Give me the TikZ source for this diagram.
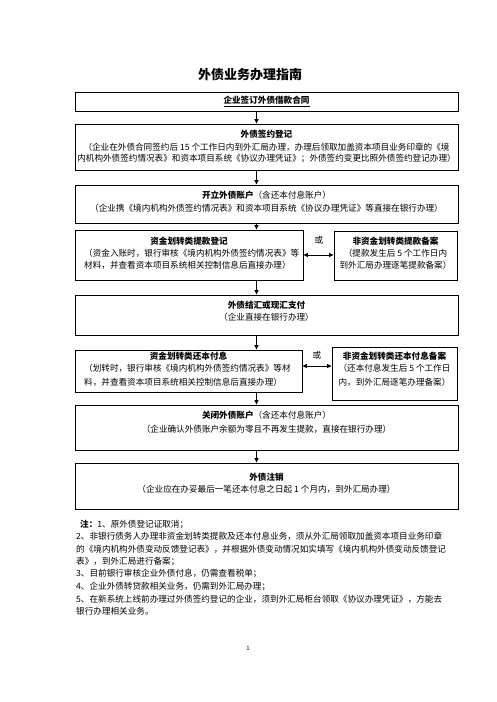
\documentclass[tikz,border=0pt]{standalone}
\usepackage{fontspec}
\setmainfont{Noto Sans CJK SC}
\usetikzlibrary{arrows.meta}
\begin{document}
\begin{tikzpicture}[x=1pt,y=-1pt,
  box/.style={draw,line width=0.9pt,inner sep=0pt},
  txt/.style={inner sep=0pt,font=\fontsize{8.6}{10}\selectfont},
  arr/.style={line width=0.8pt,-{Triangle[length=4.5pt,width=4pt]}},
  darr/.style={line width=0.8pt,{Triangle[length=4.5pt,width=4pt]}-{Triangle[length=4.5pt,width=4pt]}}]
\useasboundingbox[fill=white] (0,0) rectangle (496,702);
% title
\node[inner sep=0pt,font=\fontsize{13}{15}\selectfont\bfseries] (title) at (250,75) {外债业务办理指南};
% boxes
\node[box,minimum width=383pt,minimum height=19pt] (b1) at (266.5,101.5) {};
\node[box,minimum width=383pt,minimum height=46pt] (b2) at (266.5,147) {};
\node[box,minimum width=383pt,minimum height=38pt] (b3) at (266.5,204) {};
\node[box,minimum width=228pt,minimum height=50pt] (b4l) at (189,255) {};
\node[box,minimum width=123pt,minimum height=49pt] (b4r) at (395.5,255.5) {};
\node[box,minimum width=383pt,minimum height=40pt] (b5) at (266.5,315) {};
\node[box,minimum width=227pt,minimum height=42pt] (b6l) at (188.5,371) {};
\node[box,minimum width=125pt,minimum height=53pt] (b6r) at (394.5,373.5) {};
\node[box,minimum width=383pt,minimum height=45pt] (b7) at (266.5,427.5) {};
\node[box,minimum width=383pt,minimum height=46pt] (b8) at (266.5,486) {};
% texts
\node[txt] (t1) at (266.5,101.5) {\bfseries\underline{企业签订外债借款合同}};
\node[txt] (t2a) at (266.5,134) {\bfseries 外债签约登记};
\node[txt] (t2b) at (266.5,147) {（企业在外债合同签约后 15 个工作日内到外汇局办理，办理后领取加盖资本项目业务印章的《境};
\node[txt] (t2c) at (266.5,159) {内机构外债签约情况表》和资本项目系统《协议办理凭证》；外债签约变更比照外债签约登记办理）};
\node[txt] (t3a) at (266.5,195) {\textbf{开立外债账户}（含还本付息账户）};
\node[txt] (t3b) at (266.5,208) {（企业携《境内机构外债签约情况表》和资本项目系统《协议办理凭证》等直接在银行办理）};
\node[txt] (t4la) at (189,241) {\bfseries 资金划转类提款登记};
\node[txt,anchor=west] (t4lb) at (84,253) {（资金入账时，银行审核《境内机构外债签约情况表》等};
\node[txt,anchor=west] (t4lc) at (84,265.5) {材料，并查看资本项目系统相关控制信息后直接办理）};
\node[txt] (t4ra) at (395.5,241) {\bfseries 非资金划转类提款备案};
\node[txt] (t4rb) at (395.5,253) {（提款发生后 5 个工作日内};
\node[txt] (t4rc) at (395.5,265.5) {到外汇局办理逐笔提款备案）};
\node[txt] (or1) at (319,240) {或};
\node[txt] (t5a) at (266.5,305) {\bfseries 外债结汇或现汇支付};
\node[txt] (t5b) at (266.5,317) {（企业直接在银行办理）};
\node[txt] (t6la) at (188.5,356) {\bfseries 资金划转类还本付息};
\node[txt,anchor=west] (t6lb) at (84,368) {（划转时，银行审核《境内机构外债签约情况表》等材};
\node[txt,anchor=west] (t6lc) at (84,382) {料，并查看资本项目系统相关控制信息后直接办理）};
\node[txt] (t6ra) at (394.5,356) {\bfseries 非资金划转类还本付息备案};
\node[txt] (t6rb) at (394.5,368) {（还本付息发生后 5 个工作日};
\node[txt] (t6rc) at (394.5,382) {内，到外汇局逐笔办理备案）};
\node[txt] (or2) at (317,355) {或};
\node[txt] (t7a) at (266.5,415) {\textbf{关闭外债账户}（含还本付息账户）};
\node[txt] (t7b) at (266.5,429) {（企业确认外债账户余额为零且不再发生提款，直接在银行办理）};
\node[txt] (t8a) at (266.5,477) {\bfseries 外债注销};
\node[txt] (t8b) at (266.5,489) {（企业应在办妥最后一笔还本付息之日起 1 个月内，到外汇局办理）};
% notes
\node[txt,anchor=west] (n1) at (80,524) {\textbf{注：}1、原外债登记证取消；};
\node[txt,anchor=west] (n2) at (76,536.5) {2、非银行债务人办理非资金划转类提款及还本付息业务，须从外汇局领取加盖资本项目业务印章};
\node[txt,anchor=west] (n3) at (76,549) {的《境内机构外债变动反馈登记表》，并根据外债变动情况如实填写《境内机构外债变动反馈登记};
\node[txt,anchor=west] (n4) at (76,561.5) {表》，到外汇局进行备案；};
\node[txt,anchor=west] (n5) at (76,574) {3、目前银行审核企业外债付息，仍需查看税单；};
\node[txt,anchor=west] (n6) at (76,586.5) {4、企业外债转贷款相关业务，仍需到外汇局办理；};
\node[txt,anchor=west] (n7) at (76,599) {5、在新系统上线前办理过外债签约登记的企业，须到外汇局柜台领取《协议办理凭证》，方能去};
\node[txt,anchor=west] (n8) at (76,611.5) {银行办理相关业务。};
\node[inner sep=0pt,font=\fontsize{6}{7}\selectfont] (pg) at (248,648) {1};
% connectors
\coordinate (ax) at (256.5,0);
\draw[arr] (b1.south -| ax) -- (b2.north -| ax);
\draw[arr] (b2.south -| ax) -- (b3.north -| ax);
\draw[arr] (b3.south -| ax) -- (b4l.north -| ax);
\draw[arr] (b4l.south -| ax) -- (b5.north -| ax);
\draw[arr] (b5.south -| ax) -- (b6l.north -| ax);
\draw[arr] (b6l.south -| ax) -- (b7.north -| ax);
\draw[arr] (b7.south -| ax) -- (b8.north -| ax);
\draw[darr] (b4l.east) -- (b4r.west |- b4l.east);
\coordinate (d2) at ([yshift=5pt]b6l.east);
\draw[darr] (d2) -- (b6r.west |- d2);
\end{tikzpicture}
\end{document}
